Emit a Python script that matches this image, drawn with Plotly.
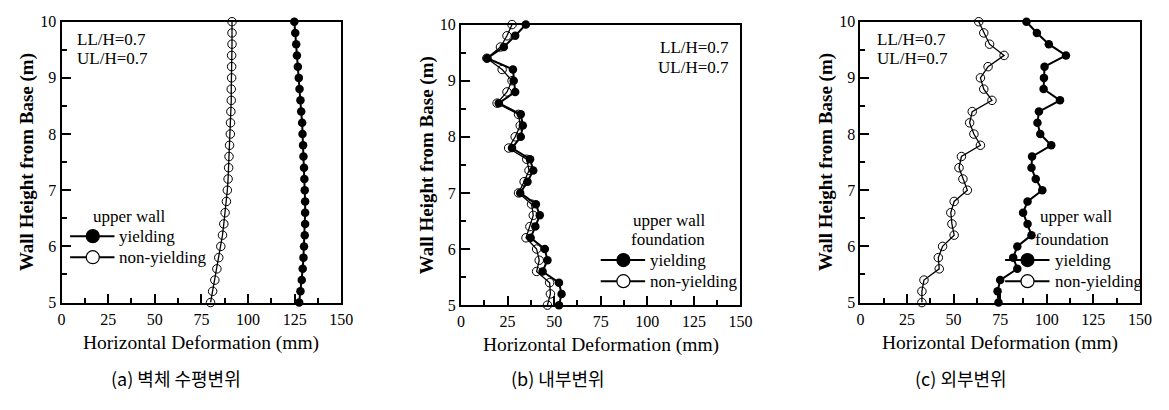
import plotly.graph_objects as go

# ---------------- data ----------------
heights = [5.0, 5.2, 5.4, 5.6, 5.8, 6.0, 6.2, 6.4, 6.6, 6.8, 7.0, 7.2, 7.4, 7.6, 7.8,
           8.0, 8.2, 8.4, 8.6, 8.8, 9.0, 9.2, 9.4, 9.6, 9.8, 10.0]

# (a) wall horizontal displacement
a_yielding = [127.4, 128.1, 128.8, 129.3, 129.7, 130.0, 130.4, 130.6, 130.6, 130.6, 130.4,
              130.2, 130.0, 129.7, 129.5, 129.2, 129.0, 128.5, 128.1, 127.6, 127.2, 126.7,
              126.2, 125.8, 125.3, 124.8]
a_nonyielding = [79.9, 81.0, 82.2, 83.3, 84.3, 85.4, 86.3, 87.0, 87.7, 88.4, 88.9, 89.3,
                 89.6, 89.8, 90.1, 90.5, 90.6, 90.8, 91.0, 91.0, 91.2, 91.2, 91.2, 91.4,
                 91.4, 91.4]

# (b) internal displacement
b_yielding = [52.6, 54.0, 52.6, 43.8, 46.4, 45.0, 37.4, 39.9, 42.3, 40.2, 31.8, 35.7, 38.8,
              37.1, 27.4, 32.1, 33.2, 32.1, 20.3, 29.1, 28.3, 27.9, 14.1, 23.0, 29.1, 34.8]
b_nonyielding = [46.4, 48.0, 47.6, 40.6, 42.0, 40.6, 34.9, 37.0, 38.8, 37.9, 30.9, 33.9,
                 36.5, 35.3, 25.6, 29.1, 31.8, 30.9, 19.4, 24.7, 27.4, 22.1, 13.9, 21.2,
                 24.7, 27.4]

# (c) external displacement
c_yielding = [74.1, 73.6, 75.0, 84.2, 82.0, 84.2, 91.8, 89.7, 87.3, 89.7, 97.6, 94.1, 91.8,
              92.1, 102.4, 96.5, 95.0, 95.8, 107.1, 98.3, 98.5, 98.8, 110.3, 101.1, 94.7, 89.1]
c_nonyielding = [33.0, 33.0, 34.1, 42.3, 41.8, 44.1, 50.3, 49.1, 48.5, 50.3, 57.4, 55.0,
                 52.9, 54.2, 64.4, 60.9, 58.6, 60.0, 70.6, 66.2, 64.4, 68.5, 77.1, 69.3,
                 66.2, 63.5]

x_ticks = [0, 25, 50, 75, 100, 125, 150]
y_ticks = [5, 6, 7, 8, 9, 10]
x_title = "Horizontal Deformation (mm)"
y_title = "Wall Height from Base (m)"
ratio_labels = ["LL/H=0.7", "UL/H=0.7"]
captions = ["(a) 벽체 수평변위", "(b) 내부변위", "(c) 외부변위"]
legend_a = ["upper wall"]
legend_bc = ["upper wall", "foundation"]
series_names = ["yielding", "non-yielding"]

# ---------------- layout helpers ----------------
W, H = 1169, 410
SERIF = "Liberation Serif"


def px(x):
    return x / W


def py(y):
    return 1 - y / H


panels = [
    dict(x0=58.3, x1=342.0, y0=14.3, y1=307.3, yv=a_yielding, nv=a_nonyielding),
    dict(x0=463.3, x1=746.7, y0=17.3, y1=310.0, yv=b_yielding, nv=b_nonyielding),
    dict(x0=868.3, x1=1151.7, y0=14.3, y1=307.3, yv=c_yielding, nv=c_nonyielding),
]

fig = go.Figure()
annotations = []
shapes = []

for i, p in enumerate(panels):
    n = "" if i == 0 else str(i + 1)
    xa, ya = "x" + n, "y" + n
    fig.add_trace(go.Scatter(
        x=p["nv"], y=heights, xaxis=xa, yaxis=ya, mode="lines+markers",
        line=dict(color="black", width=1.3),
        marker=dict(symbol="circle-open", size=8.5, color="black", line=dict(width=1)),
        cliponaxis=False, showlegend=False))
    fig.add_trace(go.Scatter(
        x=p["yv"], y=heights, xaxis=xa, yaxis=ya, mode="lines+markers",
        line=dict(color="black", width=2),
        marker=dict(symbol="circle", size=8.5, color="black"),
        cliponaxis=False, showlegend=False))

    axis_common = dict(showline=True, linewidth=2, linecolor="black", mirror=True,
                       showgrid=False, zeroline=False, ticks="inside",
                       tickwidth=1.5, tickcolor="black",
                       tickfont=dict(family=SERIF, size=16, color="black"))
    fig.layout["xaxis" + n] = dict(
        domain=[px(p["x0"]), px(p["x1"])], range=[0, 150], anchor=ya,
        tickmode="array", tickvals=x_ticks, ticklen=9, ticklabelstandoff=1,
        minor=dict(tickmode="linear", tick0=0, dtick=12.5, ticks="inside", ticklen=5,
                   tickwidth=1.5, tickcolor="black"),
        **axis_common)
    fig.layout["yaxis" + n] = dict(
        domain=[py(p["y1"]), py(p["y0"])], range=[5, 10], anchor=xa,
        tickmode="array", tickvals=y_ticks, ticklen=9,
        minor=dict(tickmode="linear", tick0=5, dtick=0.5, ticks="inside", ticklen=5,
                   tickwidth=1.5, tickcolor="black"),
        **axis_common)

    # axis titles
    annotations.append(dict(text=x_title, xref="paper", yref="paper",
                            x=px((p["x0"] + p["x1"]) / 2), y=py(p["y1"] + 42),
                            showarrow=False, xanchor="center", yanchor="middle",
                            font=dict(family=SERIF, size=19.5, color="black")))
    annotations.append(dict(text="<b>" + y_title + "</b>", xref="paper", yref="paper",
                            x=px(p["x0"] - 35), y=py((p["y0"] + p["y1"]) / 2),
                            textangle=-90, showarrow=False,
                            xanchor="center", yanchor="middle",
                            font=dict(family=SERIF, size=19, color="black")))
    # captions
    annotations.append(dict(text=captions[i], xref="paper", yref="paper",
                            x=px([174, 562, 970][i]), y=py(386), showarrow=False,
                            xanchor="center", yanchor="middle",
                            font=dict(family="Noto Sans CJK KR", size=18, color="black")))

# ratio labels
ratio_pos = [(72, "left", [33, 53]), (737, "right", [41.7, 61.7]), (883, "left", [33, 53])]
for xx, anc, ys in ratio_pos:
    for t, yy in zip(ratio_labels, ys):
        annotations.append(dict(text=t, xref="paper", yref="paper", x=px(xx), y=py(yy),
                                showarrow=False, xanchor=anc, yanchor="middle",
                                font=dict(family=SERIF, size=17, color="black")))

# legends
legend_specs = [
    dict(heads=legend_a, head_x=[127.5], head_y=[217], line=(67, 112), mx=90,
         tx=115, ys=[238, 260]),
    dict(heads=legend_bc, head_x=[674.5, 673.5], head_y=[221.7, 241.7], line=(605, 650),
         mx=628, tx=653, ys=[263, 285]),
    dict(heads=legend_bc, head_x=[1087.5, 1083], head_y=[218, 242], line=(1015, 1060),
         mx=1037.7, tx=1064, ys=[263, 285]),
]
for spec in legend_specs:
    for t, hx, hy in zip(spec["heads"], spec["head_x"], spec["head_y"]):
        annotations.append(dict(text=t, xref="paper", yref="paper", x=px(hx), y=py(hy),
                                showarrow=False, xanchor="center", yanchor="middle",
                                font=dict(family=SERIF, size=17, color="black")))
    for k, (name, yy) in enumerate(zip(series_names, spec["ys"])):
        shapes.append(dict(type="line", xref="paper", yref="paper",
                           x0=px(spec["line"][0]), x1=px(spec["line"][1]),
                           y0=py(yy), y1=py(yy), line=dict(color="black", width=2)))
        shapes.append(dict(type="circle", xref="paper", yref="paper",
                           xsizemode="pixel", ysizemode="pixel",
                           xanchor=px(spec["mx"]), yanchor=py(yy),
                           x0=-6.5, x1=6.5, y0=-6.5, y1=6.5,
                           fillcolor="black" if k == 0 else "white",
                           line=dict(color="black", width=1.2)))
        annotations.append(dict(text=name, xref="paper", yref="paper", x=px(spec["tx"]),
                                y=py(yy), showarrow=False, xanchor="left",
                                yanchor="middle",
                                font=dict(family=SERIF, size=17, color="black")))

fig.update_layout(width=W, height=H, margin=dict(l=0, r=0, t=0, b=0),
                  paper_bgcolor="white", plot_bgcolor="white",
                  annotations=annotations, shapes=shapes, showlegend=False)

fig.write_html("out.html")
